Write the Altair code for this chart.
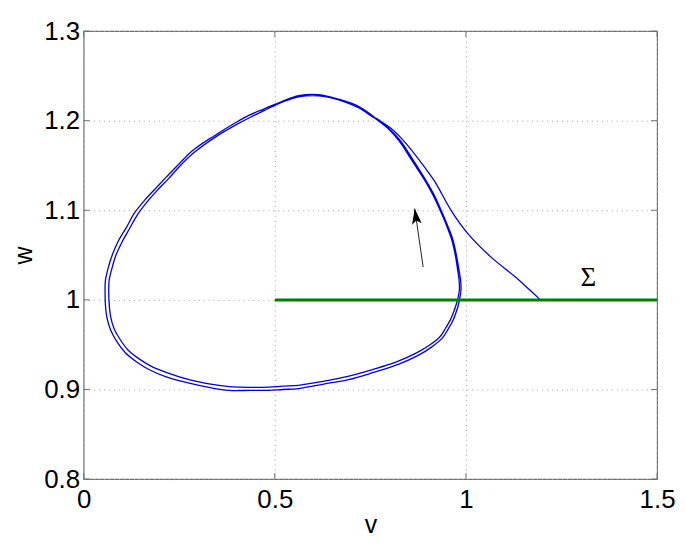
import altair as alt
import pandas as pd

# ---- data ----
tail_v = [1.195, 1.167, 1.128, 1.065, 1.005, 0.961, 0.917, 0.878, 0.836, 0.802, 0.763]
tail_w = [1.000, 1.011, 1.026, 1.048, 1.074, 1.100, 1.133, 1.156, 1.178, 1.192, 1.203]

outer_v = [0.763, 0.719, 0.667, 0.615, 0.5625, 0.521, 0.471, 0.432, 0.398, 0.341, 0.286,
           0.250, 0.216, 0.185, 0.159, 0.133, 0.112, 0.091, 0.0755, 0.065, 0.057, 0.056,
           0.057, 0.061, 0.070, 0.086, 0.109, 0.138, 0.172, 0.216, 0.276, 0.331, 0.380,
           0.435, 0.484, 0.521, 0.5625, 0.628, 0.693, 0.758, 0.823, 0.875, 0.909, 0.9375,
           0.953, 0.966, 0.974, 0.980, 0.984, 0.987, 0.986, 0.982, 0.975, 0.966, 0.952,
           0.935, 0.917, 0.896, 0.862, 0.828, 0.797, 0.763]
outer_w = [1.203, 1.216, 1.224, 1.229, 1.228, 1.222, 1.213, 1.206, 1.198, 1.183, 1.167,
           1.152, 1.137, 1.123, 1.111, 1.097, 1.081, 1.066, 1.051, 1.037, 1.022, 1.008,
           0.994, 0.980, 0.967, 0.954, 0.941, 0.931, 0.922, 0.914, 0.907, 0.902, 0.899,
           0.899, 0.899, 0.900, 0.901, 0.906, 0.911, 0.919, 0.928, 0.938, 0.947, 0.957,
           0.967, 0.977, 0.986, 0.994, 1.002, 1.011, 1.022, 1.033, 1.050, 1.067, 1.083,
           1.100, 1.117, 1.133, 1.156, 1.178, 1.192, 1.203]

inner_v = [0.763, 0.719, 0.667, 0.615, 0.5625, 0.521, 0.474, 0.435, 0.4016, 0.3445, 0.2904,
           0.2544, 0.2214, 0.1906, 0.1654, 0.1401, 0.1198, 0.0997, 0.0846, 0.0745, 0.0667,
           0.0656, 0.0669, 0.0708, 0.0794, 0.0938, 0.1159, 0.1432, 0.176, 0.2193, 0.2781,
           0.332, 0.381, 0.435, 0.484, 0.521, 0.5625, 0.6266, 0.6911, 0.7555, 0.8198, 0.8706,
           0.9042, 0.932, 0.9469, 0.9596, 0.9677, 0.9745, 0.9792, 0.9828, 0.982, 0.9784,
           0.9721, 0.963, 0.949, 0.9323, 0.914, 0.8932, 0.8594, 0.8255, 0.7948, 0.7617]
inner_w = [1.2025, 1.2144, 1.2233, 1.2278, 1.2267, 1.2211, 1.2117, 1.2036, 1.1961, 1.1817,
           1.165, 1.1506, 1.135, 1.1214, 1.1091, 1.0947, 1.0794, 1.0641, 1.05, 1.0359, 1.0219,
           1.0078, 0.9947, 0.9808, 0.9682, 0.9569, 0.9441, 0.9347, 0.9261, 0.9186, 0.9107,
           0.906, 0.9032, 0.9024, 0.9027, 0.9037, 0.9047, 0.9091, 0.9146, 0.9222, 0.931,
           0.9408, 0.9493, 0.9589, 0.9686, 0.978, 0.9864, 0.9948, 1.002, 1.011, 1.0222,
           1.0333, 1.05, 1.0667, 1.0833, 1.1, 1.1167, 1.1329, 1.155, 1.1772, 1.1917, 1.2027]

sigma_v = [0.5, 1.5]
sigma_w = [1.0, 1.0]

arrow_v = [0.888, 0.866]
arrow_w = [1.0367, 1.1019]

label_v = [1.320]
label_w = [1.0244]
label_text = ["Σ"]

x_ticks = [0, 0.5, 1, 1.5]
y_ticks = [0.8, 0.9, 1.0, 1.1, 1.2, 1.3]

W, H = 576, 450
FONT = "Liberation Sans"

# ---- tables ----
path_v = tail_v + outer_v + inner_v
path_w = tail_w + outer_w + inner_w
path_df = pd.DataFrame({"v": path_v, "w": path_w, "i": list(range(len(path_v)))})
sigma_df = pd.DataFrame({"v": sigma_v, "w": sigma_w})
arrow_df = pd.DataFrame({"v": arrow_v, "w": arrow_w, "i": [0, 1]})
head_df = pd.DataFrame({"v": [arrow_v[1]], "w": [arrow_w[1]]})
label_df = pd.DataFrame({"v": label_v, "w": label_w, "t": label_text})
xt_df = pd.DataFrame({"v": x_ticks})
yt_df = pd.DataFrame({"w": y_ticks})

xscale = alt.Scale(domain=[0, 1.5], nice=False, zero=False)
yscale = alt.Scale(domain=[0.8, 1.3], nice=False, zero=False)

grid_common = dict(
    ticks=False, domain=False, grid=True, gridColor="#a0a0a0", gridDash=[1, 4],
    gridWidth=1, labelFont=FONT, labelFontSize=26, labelColor="#000000", labelFlush=False,
    titleFont=FONT, titleFontSize=25, titleColor="#000000", titleFontWeight="normal",
)
xaxis = alt.Axis(values=x_ticks, format="~g", labelPadding=8, titlePadding=0, **grid_common)
yaxis = alt.Axis(values=y_ticks, format="~g", labelPadding=4, titlePadding=7, **grid_common)

base_axes = alt.Chart(sigma_df).mark_line(opacity=0).encode(
    x=alt.X("v:Q", scale=xscale, axis=xaxis, title="v"),
    y=alt.Y("w:Q", scale=yscale, axis=yaxis, title="w"),
)

path = alt.Chart(path_df).mark_line(
    color="#0000e6", strokeWidth=1.3, interpolate="catmull-rom"
).encode(
    x=alt.X("v:Q", scale=xscale),
    y=alt.Y("w:Q", scale=yscale),
    order="i:Q",
)

sigma = alt.Chart(sigma_df).mark_line(color="#008000", strokeWidth=3).encode(
    x=alt.X("v:Q", scale=xscale),
    y=alt.Y("w:Q", scale=yscale),
)

arrow_line = alt.Chart(arrow_df).mark_line(color="#222222", strokeWidth=1).encode(
    x=alt.X("v:Q", scale=xscale),
    y=alt.Y("w:Q", scale=yscale),
    order="i:Q",
)

arrow_head = alt.Chart(head_df).mark_point(
    shape="M0,0 L0.5,1.6 L0,1.25 L-0.5,1.6 Z", size=380, angle=352,
    filled=True, color="#000000", opacity=1, strokeWidth=0,
).encode(
    x=alt.X("v:Q", scale=xscale),
    y=alt.Y("w:Q", scale=yscale),
)

label = alt.Chart(label_df).mark_text(
    font="Liberation Serif", fontSize=27, color="#000000", align="center", baseline="middle"
).encode(
    x=alt.X("v:Q", scale=xscale),
    y=alt.Y("w:Q", scale=yscale),
    text="t:N",
)

TICK = 6
TCOL = "#707070"
tick_b = alt.Chart(xt_df).mark_rule(color=TCOL, strokeWidth=1).encode(
    x=alt.X("v:Q", scale=xscale), y=alt.value(H), y2=alt.value(H - TICK))
tick_t = alt.Chart(xt_df).mark_rule(color=TCOL, strokeWidth=1).encode(
    x=alt.X("v:Q", scale=xscale), y=alt.value(0), y2=alt.value(TICK))
tick_l = alt.Chart(yt_df).mark_rule(color=TCOL, strokeWidth=1).encode(
    y=alt.Y("w:Q", scale=yscale), x=alt.value(0), x2=alt.value(TICK))
tick_r = alt.Chart(yt_df).mark_rule(color=TCOL, strokeWidth=1).encode(
    y=alt.Y("w:Q", scale=yscale), x=alt.value(W), x2=alt.value(W - TICK))

chart = alt.layer(
    base_axes, tick_b, tick_t, tick_l, tick_r, path, sigma, arrow_line, arrow_head, label
).properties(
    width=W, height=H,
    autosize=alt.AutoSizeParams(type="none"),
    padding={"left": 76, "top": 22, "right": 20, "bottom": 62},
    background="#ffffff",
).configure_view(
    stroke=TCOL, strokeWidth=1.2
)

chart.save("out.html", embed_options={"renderer": "svg", "actions": False})
